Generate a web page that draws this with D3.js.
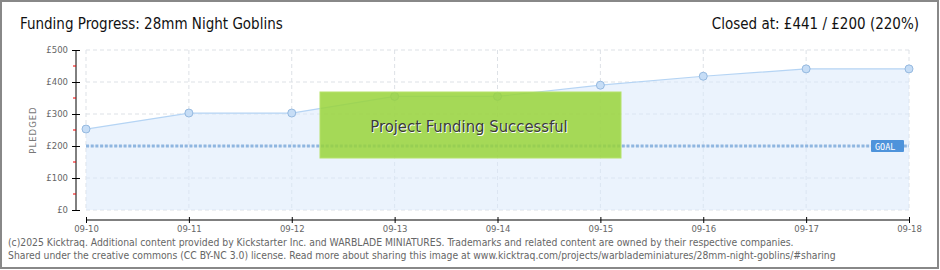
<!DOCTYPE html>
<html>
<head>
<meta charset="utf-8">
<script src="https://cdn.jsdelivr.net/npm/d3@7"></script>
<style>
  body { margin: 0; background: #fff; }
  svg { display: block; }
  .title { font-family: "DejaVu Sans Condensed", "DejaVu Sans", sans-serif; fill: #111; }
  .tick text { font-family: "DejaVu Sans", sans-serif; font-size: 8.5px; fill: #666; }
  .foot { font-family: "DejaVu Sans Condensed", "DejaVu Sans", sans-serif; font-size: 10.3px; fill: #666; }
</style>
</head>
<body>
<div id="chart"></div>
<script>
const dates = ["09-10", "09-11", "09-12", "09-13", "09-14", "09-15", "09-16", "09-17", "09-18"];
const pledged = [253, 303, 303, 355, 355, 390, 418, 441, 441];
const yTicks = [0, 100, 200, 300, 400, 500];
const goal = 200;
const titleText = "Funding Progress: 28mm Night Goblins";
const closedText = "Closed at: £441 /  £200 (220%)";
const footerLines = [
    "(c)2025 Kicktraq. Additional content provided by Kickstarter Inc. and WARBLADE MINIATURES. Trademarks and related content are owned by their respective companies.",
    "Shared under the creative commons (CC BY-NC 3.0) license. Read more about sharing this image at www.kicktraq.com/projects/warblademiniatures/28mm-night-goblins/#sharing"
];

const W = 940, H = 270;
const svg = d3.select("#chart").append("svg").attr("width", W).attr("height", H);

// frame
svg.append("rect").attr("x", 1).attr("y", 1).attr("width", W - 3).attr("height", H - 3)
    .attr("fill", "#fff").attr("stroke", "#888").attr("stroke-width", 2);

const x = d3.scalePoint().domain(dates).range([86, 909]);
const y = d3.scaleLinear().domain([0, 500]).range([210, 50]);

// grid
const grid = svg.append("g").attr("stroke", "#dde1e6").attr("stroke-dasharray", "4,3");
grid.selectAll("line.h").data(yTicks).enter().append("line")
    .attr("x1", 86).attr("x2", 909).attr("y1", d => y(d)).attr("y2", d => y(d));
grid.selectAll("line.v").data(dates).enter().append("line")
    .attr("x1", d => x(d)).attr("x2", d => x(d)).attr("y1", 50).attr("y2", 210);

// area + line
const pts = dates.map((d, i) => ({ d, v: pledged[i] }));
svg.append("path").datum(pts)
    .attr("fill", "#dbeafb").attr("fill-opacity", 0.55)
    .attr("d", d3.area().x(p => x(p.d)).y0(y(0)).y1(p => y(p.v)));
svg.append("path").datum(pts)
    .attr("fill", "none").attr("stroke", "#b5d4f4").attr("stroke-width", 1.2)
    .attr("d", d3.line().x(p => x(p.d)).y(p => y(p.v)));

// goal line
svg.append("line").attr("x1", 86).attr("x2", 909).attr("y1", y(goal)).attr("y2", y(goal))
    .attr("stroke", "#8fb6e0").attr("stroke-width", 3).attr("stroke-dasharray", "3,1.7");

svg.selectAll("circle.pt").data(pts).enter().append("circle")
    .attr("cx", p => x(p.d)).attr("cy", p => y(p.v)).attr("r", 4)
    .attr("fill", "#c6ddf6").attr("stroke", "#95b9e0").attr("stroke-width", 1);

// goal label
const gl = svg.append("g").attr("transform", `translate(871,${y(goal) - 6})`);
gl.append("rect").attr("width", 33).attr("height", 12).attr("rx", 1).attr("fill", "#4e93db");
gl.append("text").attr("x", 4).attr("y", 9.5).text("GOAL")
    .attr("font-family", "DejaVu Sans Mono, monospace").attr("font-size", 8.5).attr("fill", "#fff");

// y axis
const yAxis = svg.append("g").attr("transform", "translate(76,0)")
    .call(d3.axisLeft(y).tickValues(yTicks).tickSize(4).tickFormat(d => "£" + d));
yAxis.select(".domain").attr("stroke", "#000").attr("d", "M0,50V210");
yAxis.selectAll(".tick line").attr("stroke", "#000").attr("x2", 4).attr("x1", -4);
yAxis.selectAll(".tick text").attr("x", -8);
svg.append("g").selectAll("line").data(yTicks.slice(0, -1).map(v => v + 50)).enter().append("line")
    .attr("x1", 73).attr("x2", 76).attr("y1", d => y(d)).attr("y2", d => y(d)).attr("stroke", "#e00");
svg.append("text").attr("transform", `translate(36,130) rotate(-90)`)
    .attr("text-anchor", "middle").attr("font-family", "DejaVu Sans, sans-serif")
    .attr("font-size", 8.5).attr("letter-spacing", 1).attr("fill", "#777").text("PLEDGED");

// x axis
const xAxis = svg.append("g").attr("transform", "translate(0,220)")
    .call(d3.axisBottom(x).tickSize(4));
xAxis.select(".domain").attr("stroke", "#000").attr("d", "M86,0H909");
xAxis.selectAll(".tick line").attr("stroke", "#000").attr("y1", -3).attr("y2", 3);
xAxis.selectAll(".tick text").attr("y", 6);

// success box
svg.append("rect").attr("x", 320).attr("y", 92).attr("width", 301).attr("height", 66)
    .attr("fill", "#99d33a").attr("fill-opacity", 0.85).attr("stroke", "#b5e26a").attr("stroke-width", 1);
svg.append("text").attr("x", 469).attr("y", 132).attr("text-anchor", "middle")
    .attr("class", "title").attr("font-size", 16.5).style("fill", "#fff").text("Project Funding Successful")
    .attr("dx", 0.8).attr("dy", 0.8);
svg.append("text").attr("x", 469).attr("y", 132).attr("text-anchor", "middle")
    .attr("class", "title").attr("font-size", 16.5).style("fill", "#3a3a3a").text("Project Funding Successful");

// titles
svg.append("text").attr("class", "title").attr("x", 20).attr("y", 29).attr("font-size", 15).text(titleText);
svg.append("text").attr("class", "title").attr("x", 919).attr("y", 29).attr("text-anchor", "end")
    .attr("font-size", 15).text(closedText);

// footer
svg.selectAll("text.foot").data(footerLines).enter().append("text").attr("class", "foot")
    .attr("x", 8).attr("y", (d, i) => 246 + i * 13).text(d => d);
</script>
</body>
</html>
